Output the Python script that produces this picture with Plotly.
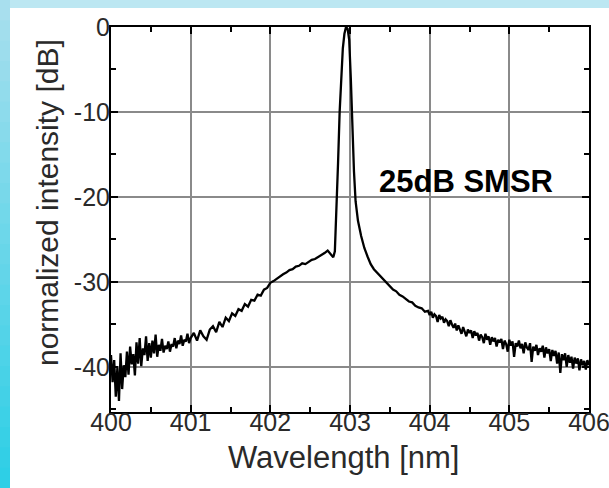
import plotly.graph_objects as go

# ---- data ----
wl_a = [400.00, 400.02, 400.04, 400.06, 400.08, 400.10, 400.12, 400.14, 400.16, 400.18,
        400.20, 400.22, 400.24, 400.26, 400.28, 400.30, 400.32, 400.34, 400.36, 400.38,
        400.40, 400.42, 400.44, 400.46, 400.48, 400.50, 400.52, 400.54, 400.56, 400.58,
        400.60, 400.62, 400.64, 400.66, 400.68, 400.70, 400.72, 400.74, 400.76, 400.78,
        400.80, 400.82, 400.84, 400.86, 400.88, 400.90, 400.92, 400.94, 400.96, 400.98,
        401.00]
db_a = [-38.6, -41.8, -39.2, -43.5, -40.1, -44.0, -38.4, -42.6, -39.8, -41.2,
        -38.2, -40.9, -37.6, -39.7, -38.5, -41.0, -37.1, -39.6, -36.6, -39.9,
        -37.8, -38.6, -36.4, -39.3, -37.2, -38.9, -36.9, -38.4, -36.2, -38.8,
        -37.4, -38.1, -36.7, -38.3, -37.5, -37.9, -37.0, -38.2, -37.3, -37.6,
        -36.6, -37.8, -36.9, -37.3, -36.3, -37.5, -36.8, -37.0, -36.1, -37.2,
        -36.6]

wl_b = [401.04, 401.08, 401.12, 401.16, 401.20, 401.24, 401.28, 401.32, 401.36, 401.40,
        401.44, 401.48, 401.52, 401.56, 401.60, 401.64, 401.68, 401.72, 401.76, 401.80,
        401.84, 401.88, 401.92, 401.96, 402.00, 402.04, 402.08, 402.12, 402.16, 402.20,
        402.24, 402.28, 402.32, 402.36, 402.40, 402.44, 402.48, 402.52, 402.56, 402.60,
        402.64, 402.68, 402.72, 402.76]
db_b = [-36.0, -36.9, -35.7, -36.4, -36.8, -35.6, -35.2, -35.9, -34.7, -35.3,
        -34.2, -34.6, -33.7, -34.0, -33.2, -33.4, -32.6, -32.9, -32.1, -32.2,
        -31.5, -31.6, -30.9, -30.7, -30.1, -29.9, -29.6, -29.4, -29.1, -28.9,
        -28.6, -28.5, -28.2, -28.1, -27.8, -27.9, -27.6, -27.4, -27.3, -27.1,
        -26.9, -26.6, -26.3, -26.7]

wl_peak = [402.79, 402.81, 402.83, 402.85, 402.87, 402.89, 402.91, 402.93, 402.95, 402.97,
           402.99, 403.01, 403.03, 403.05, 403.07, 403.10, 403.14, 403.18, 403.22, 403.26]
db_peak = [-27.1, -26.4, -22.0, -16.0, -10.0, -5.5, -2.5, -0.8, 0.0, -0.2,
           -1.5, -6.0, -12.0, -17.0, -20.5, -22.8, -24.6, -26.0, -27.0, -27.9]

wl_c = [403.30, 403.34, 403.38, 403.42, 403.46, 403.50, 403.54, 403.58, 403.62, 403.66,
        403.70, 403.74, 403.78, 403.82, 403.86, 403.90, 403.94, 403.98]
db_c = [-28.5, -28.9, -29.4, -29.8, -30.2, -30.5, -30.9, -31.1, -31.5, -31.7,
        -32.0, -32.3, -32.4, -32.8, -33.0, -33.1, -33.5, -33.4]

wl_d = [404.00, 404.02, 404.04, 404.06, 404.08, 404.10, 404.12, 404.14, 404.16, 404.18,
        404.20, 404.22, 404.24, 404.26, 404.28, 404.30, 404.32, 404.34, 404.36, 404.38,
        404.40, 404.42, 404.44, 404.46, 404.48, 404.50, 404.52, 404.54, 404.56, 404.58,
        404.60, 404.62, 404.64, 404.66, 404.68, 404.70, 404.72, 404.74, 404.76, 404.78,
        404.80, 404.82, 404.84, 404.86, 404.88, 404.90, 404.92, 404.94, 404.96, 404.98,
        405.00, 405.02, 405.04, 405.06, 405.08, 405.10, 405.12, 405.14, 405.16, 405.18,
        405.20, 405.22, 405.24, 405.26, 405.28, 405.30, 405.32, 405.34, 405.36, 405.38,
        405.40, 405.42, 405.44, 405.46, 405.48, 405.50, 405.52, 405.54, 405.56, 405.58,
        405.60, 405.62, 405.64, 405.66, 405.68, 405.70, 405.72, 405.74, 405.76, 405.78,
        405.80, 405.82, 405.84, 405.86, 405.88, 405.90, 405.92, 405.94, 405.96, 405.98,
        406.00]
db_d = [-33.9, -33.5, -34.2, -33.8, -34.0, -34.7, -33.9, -34.3, -34.1, -34.8,
        -34.4, -34.6, -35.2, -34.5, -35.0, -35.4, -34.9, -35.7, -35.1, -35.5,
        -36.1, -35.3, -35.9, -36.4, -35.6, -36.0, -35.7, -36.6, -35.8, -36.3,
        -36.0, -36.9, -36.2, -36.5, -37.2, -36.1, -36.8, -36.4, -37.4, -36.5,
        -37.0, -36.6, -37.6, -36.8, -37.1, -36.7, -37.9, -36.9, -37.3, -38.2,
        -36.8, -37.5, -37.0, -38.8, -37.2, -37.6, -36.9, -37.8, -37.3, -38.4,
        -37.1, -37.7, -38.0, -37.2, -39.4, -37.6, -38.1, -37.4, -38.6, -37.8,
        -38.2, -37.5, -38.9, -37.7, -38.4, -37.9, -39.3, -38.0, -38.7, -38.1,
        -39.6, -38.3, -40.7, -38.5, -39.2, -38.4, -40.0, -38.6, -39.5, -38.8,
        -40.2, -38.9, -39.6, -39.0, -40.4, -39.1, -39.8, -39.3, -40.3, -39.2,
        -39.8]

x_ticks = [400, 401, 402, 403, 404, 405, 406]
y_ticks = [0, -10, -20, -30, -40]
x_title = "Wavelength [nm]"
y_title = "normalized intensity [dB]"
annotation_text = "25dB SMSR"

wavelength = wl_a + wl_b + wl_peak + wl_c + wl_d
intensity = db_a + db_b + db_peak + db_c + db_d

# ---- figure ----
W, H = 609, 488
L, R, T, B = 111, 20, 27, 76
pw, ph = W - L - R, H - T - B

def px_x(p):
    return (p - L) / pw

def px_y(p):
    return (H - B - p) / ph

fig = go.Figure()
fig.add_trace(go.Scatter(x=wavelength, y=intensity, mode="lines",
                         line=dict(color="black", width=2.3), showlegend=False,
                         hoverinfo="skip"))

shapes = []
shapes.append(dict(type="rect", xref="paper", yref="paper", layer="below",
                   x0=px_x(0), x1=px_x(W), y0=px_y(8), y1=px_y(0),
                   fillcolor="#bce7f2", line=dict(width=0)))
n = 24
c0 = (0xa8, 0xdf, 0xee)
c1 = (0x2e, 0xcf, 0xe6)
for i in range(n):
    f = i / (n - 1)
    col = "rgb(%d,%d,%d)" % tuple(int(c0[k] + (c1[k] - c0[k]) * f) for k in range(3))
    y_top = H * i / n
    y_bot = H * (i + 1) / n + 1
    shapes.append(dict(type="rect", xref="paper", yref="paper", layer="below",
                       x0=px_x(0), x1=px_x(10), y0=px_y(y_bot), y1=px_y(y_top),
                       fillcolor=col, line=dict(width=0)))
fig.update_layout(shapes=shapes)

font_family = "Liberation Sans, Arial, sans-serif"
txt = "#2a2a2a"
fig.update_layout(
    width=W, height=H,
    margin=dict(l=L, r=R, t=T, b=B, autoexpand=False),
    paper_bgcolor="white", plot_bgcolor="white",
    font=dict(family=font_family, color=txt),
    xaxis=dict(range=[400, 406], tickvals=x_ticks, ticktext=[str(v) for v in x_ticks],
               ticks="inside", ticklen=7, tickcolor="black", tickwidth=1.5,
               showgrid=True, gridcolor="#8a8a8a", gridwidth=2,
               showline=True, linecolor="black", linewidth=2, mirror="ticks",
               zeroline=False, tickfont=dict(size=25, color=txt), automargin=False,
               ticklabelstandoff=-13, ticklabeloverflow="allow",
               minor=dict(dtick=0.5, ticks="inside", ticklen=5, tickcolor="black",
                          showgrid=False)),
    yaxis=dict(range=[-45.3, 0], tickvals=y_ticks, ticktext=[str(v) for v in y_ticks],
               ticks="inside", ticklen=7, tickcolor="black", tickwidth=1.5,
               showgrid=True, gridcolor="#8a8a8a", gridwidth=2,
               showline=True, linecolor="black", linewidth=2, mirror="ticks",
               zeroline=False, tickfont=dict(size=25, color=txt), automargin=False,
               ticklabelstandoff=-6, ticklabeloverflow="allow",
               minor=dict(dtick=5, ticks="inside", ticklen=5, tickcolor="black",
                          showgrid=False)),
    annotations=[
        dict(x=404.46, y=-18.2, xref="x", yref="y", text="<b>%s</b>" % annotation_text,
             showarrow=False, font=dict(size=31, color="black", family=font_family)),
        dict(x=px_x(343), y=px_y(457), xref="paper", yref="paper", text=x_title,
             showarrow=False, xanchor="center", yanchor="middle",
             font=dict(size=31, color=txt, family=font_family)),
        dict(x=px_x(47), y=px_y(203), xref="paper", yref="paper", text=y_title,
             showarrow=False, xanchor="center", yanchor="middle", textangle=-90,
             font=dict(size=30, color=txt, family=font_family)),
    ],
)

fig.write_html("out.html", config={"displayModeBar": False},
               post_script="document.body.style.margin='0';document.body.style.overflow='hidden';")
